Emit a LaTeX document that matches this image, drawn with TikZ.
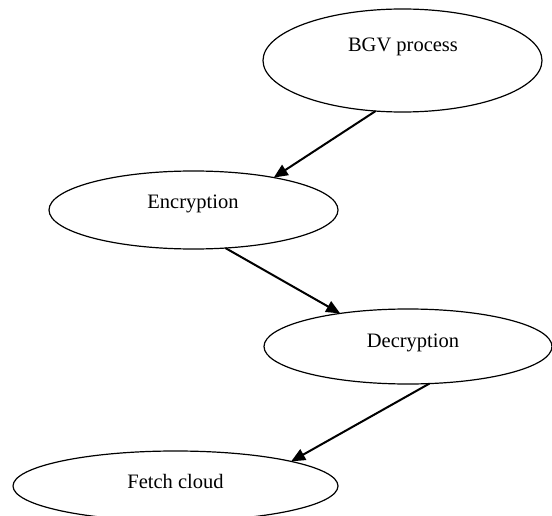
\documentclass[tikz,border=0pt]{standalone}
\usepackage{fontspec}
\setmainfont{Liberation Serif}
\usetikzlibrary{shapes.geometric,arrows.meta}
\begin{document}
\begin{tikzpicture}[x=1pt,y=-1pt,
  oval/.style={draw,ellipse,line width=1.2pt,inner sep=0pt,outer sep=0pt},
  txt/.style={anchor=base,inner sep=0pt,font=\fontsize{20.5}{24}\selectfont},
  conn/.style={line width=2pt,-{Triangle[length=14pt,width=12pt]}}]
\useasboundingbox (0,0) rectangle (552,516);
\node[oval,minimum width=279pt,minimum height=103pt] (bgv) at (402.5,60.5) {};
\node[oval,minimum width=289pt,minimum height=78pt] (enc) at (193.5,210) {};
\node[oval,minimum width=288pt,minimum height=75pt] (dec) at (408,346.5) {};
\node[oval,minimum width=325pt,minimum height=70pt] (fet) at (175.5,486) {};
\node[txt] (tbgv) at (403,52) {BGV process};
\node[txt] (tenc) at (193,209) {Encryption};
\node[txt] (tdec) at (413,347) {Decryption};
\node[txt] (tfet) at (175.5,488) {Fetch cloud};
\draw[conn] (bgv.242) -- (enc.22);
\draw[conn] (enc.310) -- (dec.154);
\draw[conn] (dec.300) -- (fet.12);
\end{tikzpicture}
\end{document}
